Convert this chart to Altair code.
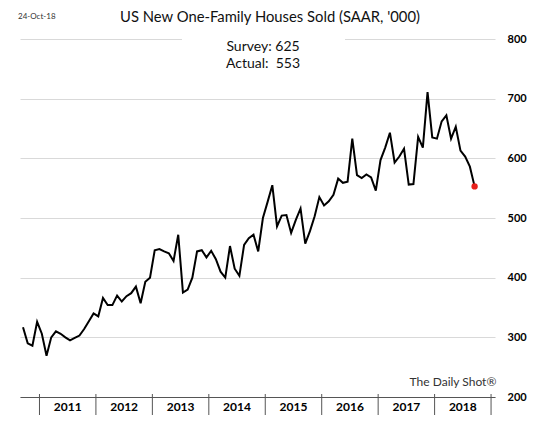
import altair as alt
import pandas as pd

# New one-family houses sold, SAAR, thousands
sales_2010 = [317, 290, 286, 326]  # Sep-Dec
sales_2011 = [306, 269, 300, 310, 306, 300, 295, 299, 303, 314, 327, 340]
sales_2012 = [335, 366, 354, 354, 370, 360, 369, 374, 385, 357, 393, 400]
sales_2013 = [446, 448, 444, 441, 428, 472, 375, 380, 400, 444, 446, 434]
sales_2014 = [445, 431, 410, 400, 453, 415, 403, 455, 466, 472, 444, 500]
sales_2015 = [527, 555, 486, 504, 505, 475, 497, 516, 457, 478, 503, 535]
sales_2016 = [521, 528, 539, 566, 559, 561, 633, 572, 567, 573, 568, 546]
sales_2017 = [597, 618, 643, 593, 603, 616, 556, 557, 636, 618, 711, 635]
sales_2018 = [633, 662, 672, 633, 653, 613, 603, 586, 553]  # Jan-Sep

series = [
    (2010, 9, sales_2010), (2011, 1, sales_2011), (2012, 1, sales_2012),
    (2013, 1, sales_2013), (2014, 1, sales_2014), (2015, 1, sales_2015),
    (2016, 1, sales_2016), (2017, 1, sales_2017), (2018, 1, sales_2018),
]
rows = []
for year, start, vals in series:
    for i, v in enumerate(vals):
        m = start + i
        rows.append({"t": year + (m - 0.5) / 12, "v": v})
df = pd.DataFrame(rows)
last_t = float(df["t"].max())

year_labels = [2011, 2012, 2013, 2014, 2015, 2016, 2017, 2018]
year_bounds = [2011, 2012, 2013, 2014, 2015, 2016, 2017, 2018, 2019]
y_ticks = [200, 300, 400, 500, 600, 700, 800]

W, H = 475, 358
FONT = "Lato"

xscale = alt.Scale(domain=[2010.655, 2019.07], nice=False, zero=False)
yscale = alt.Scale(domain=[200, 800], nice=False, zero=False)

base = alt.Chart(df)

line = base.mark_line(color="black", strokeWidth=2).encode(
    x=alt.X("t:Q", scale=xscale,
            axis=alt.Axis(title=None, labels=False, ticks=False, grid=False,
                          domain=True, domainColor="#555555", domainWidth=1)),
    y=alt.Y("v:Q", scale=yscale,
            axis=alt.Axis(orient="right", title=None, values=y_ticks, grid=True,
                          gridColor="#d9d9d9", gridWidth=1, domain=False, ticks=False,
                          labelFont=FONT, labelFontWeight="bold", labelFontSize=11,
                          labelPadding=12, labelAlign="left", labelColor="black")),
)

last = base.transform_filter(alt.datum.t >= last_t - 0.001).mark_circle(
    color="#e8201c", size=40, opacity=1
).encode(x=alt.X("t:Q", scale=xscale), y=alt.Y("v:Q", scale=yscale))

bounds_df = pd.DataFrame({"b": year_bounds})
ticks = alt.Chart(bounds_df).mark_rule(color="#555555", strokeWidth=1).encode(
    x=alt.X("b:Q", scale=xscale),
    y=alt.value(H - 3),
    y2=alt.value(H + 18),
)

labels_df = pd.DataFrame({"mid": [y + 0.5 for y in year_labels],
                          "lab": [str(y) for y in year_labels]})
year_text = alt.Chart(labels_df).mark_text(
    font=FONT, fontSize=12, fontWeight="bold", color="black", baseline="middle"
).encode(x=alt.X("mid:Q", scale=xscale), y=alt.value(H + 10), text="lab:N")

one = pd.DataFrame({"a": [0]})
blank = alt.Chart(one).mark_rect(color="white").encode(
    x=alt.value(162), x2=alt.value(325), y=alt.value(-5), y2=alt.value(5)
)

def label(txt, x, y, size, color="black", align="center", weight="normal"):
    return alt.Chart(one).mark_text(
        font=FONT, fontSize=size, color=color, align=align, baseline="middle",
        fontWeight=weight
    ).encode(x=alt.value(x), y=alt.value(y), text=alt.value(txt))

title = label("US New One-Family Houses Sold (SAAR, '000)", 250, -21, 14.8, "#111111")
date = label("24-Oct-18", -2, -22, 8, "#333333", align="left")
survey = label("Survey: 625", 243, 8, 14, "#111111")
actual = label("Actual:\u00a0 553", 243, 24.5, 14, "#111111")
brand = label("The Daily Shot®", 433, 343, 12, "#333333")

chart = alt.layer(
    blank, ticks, line, last, year_text, title, date, survey, actual, brand
).properties(
    width=W, height=H,
    padding={"left": 12, "top": 31, "right": 36, "bottom": 18},
    autosize=alt.AutoSizeParams(type="none"),
    background="white",
).configure_view(stroke=None)

chart.save("out.html", embed_options={"renderer": "svg", "actions": False})
